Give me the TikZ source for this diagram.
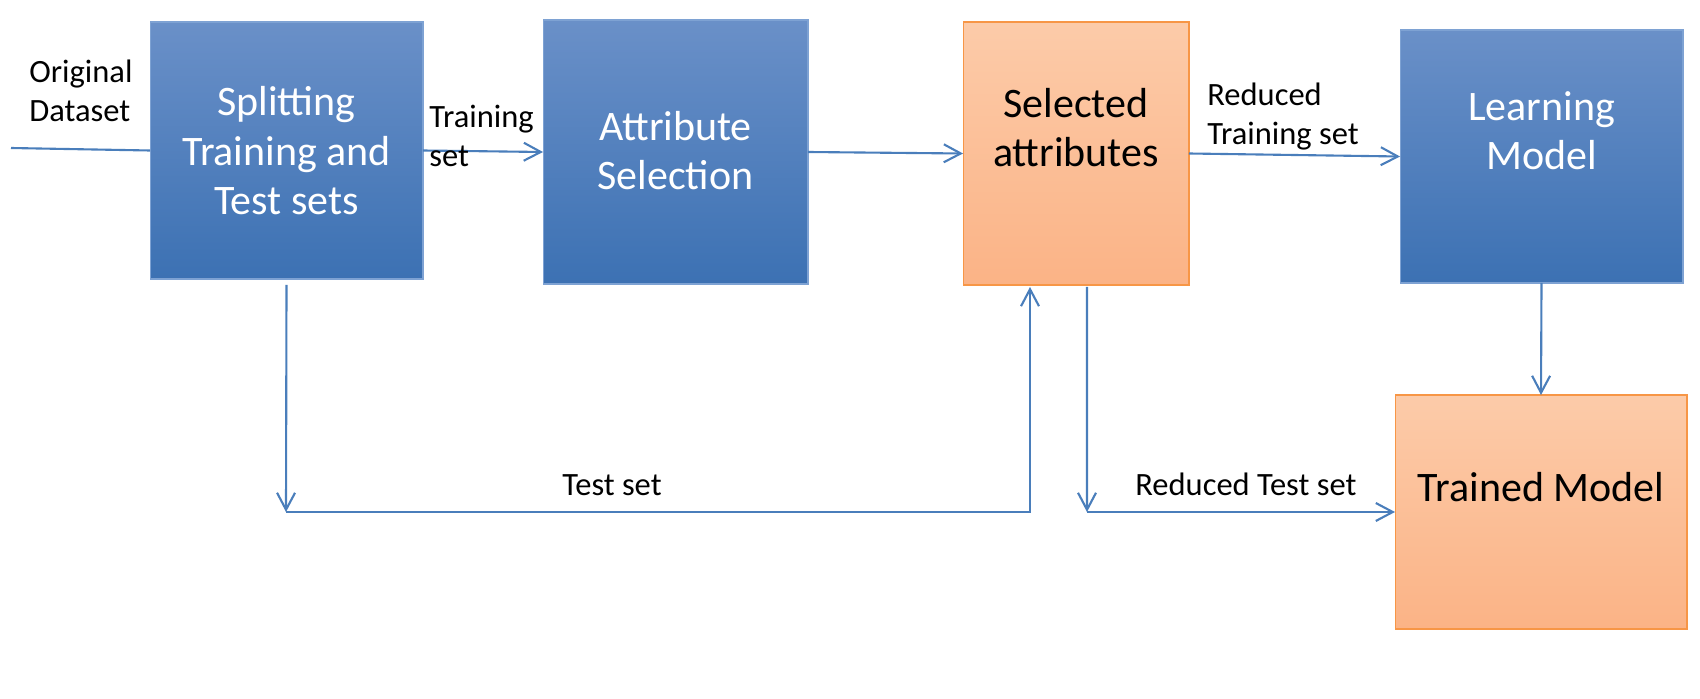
\documentclass[tikz,border=0pt]{standalone}
\usepackage{fontspec}
\setmainfont{Carlito}
\usetikzlibrary{arrows.meta}
\definecolor{flowline}{HTML}{4A7EBB}
\definecolor{blktop}{HTML}{6A90C8}
\definecolor{blkbot}{HTML}{3C71B3}
\definecolor{blkedge}{HTML}{7EA2D3}
\definecolor{orgtop}{HTML}{FCCBA9}
\definecolor{orgbot}{HTML}{FBB386}
\definecolor{orgedge}{HTML}{F79646}
\begin{document}
\begin{tikzpicture}[x=0.02cm,y=-0.02cm,
    blkbox/.style={draw=blkedge,line width=0.6pt,top color=blktop,bottom color=blkbot,text=white,align=center,inner sep=0pt,outer sep=0pt,font=\fontsize{23.9pt}{28.45pt}\selectfont,text depth=0pt},
    orgbox/.style={blkbox,draw=orgedge,top color=orgtop,bottom color=orgbot,text=black},
    flow/.style={draw=flowline,line width=1.2pt},
    flowarr/.style={flow,-{Straight Barb[length=0.34cm,width=0.36cm]}},
    lbl/.style={anchor=base west,align=left,inner sep=0pt,font=\fontsize{18.5pt}{22.5pt}\selectfont}]
      \useasboundingbox (0,0) rectangle (1700,699);
      \node[blkbox,minimum width=5.46cm,minimum height=5.14cm,text height=2.58cm] (split) at (286.5,150.5) {Splitting\\Training and\\Test sets};
      \node[blkbox,minimum width=5.3cm,minimum height=5.28cm,text height=1.52cm] (attr) at (675.5,152) {Attribute\\Selection};
      \node[orgbox,minimum width=4.52cm,minimum height=5.26cm,text height=0.54cm] (sel) at (1076,153.5) {Selected\\attributes};
      \node[blkbox,minimum width=5.66cm,minimum height=5.06cm,text height=0.54cm] (learn) at (1541.5,156.5) {Learning\\Model};
      \node[orgbox,minimum width=5.84cm,minimum height=4.68cm,text height=0pt,text depth=0.42cm] (trained) at (1541,512) {Trained Model};
      \coordinate (in) at (11,148);
      \coordinate (tcorner) at (286,512); \coordinate (rcorner) at (1087,512);
      \draw[flow] (in) -- (split.west);
      \draw[flowarr] (split.east) -- (attr.west);
      \draw[flowarr] (attr.east) -- (sel.west);
      \draw[flowarr] (sel.east) -- (learn.west);
      \draw[flowarr] (learn.south) -- (trained.north);
      \draw[flowarr] ([yshift=-0.12cm]split.south) -- (tcorner);
      \draw[flowarr] (tcorner) -| ([xshift=-0.92cm,yshift=-0.04cm]sel.south);
      \draw[flowarr] ([xshift=0.22cm,yshift=-0.04cm]sel.south) -- (rcorner);
      \draw[flowarr] (rcorner) -- (trained.west);
      \node[lbl] (orig) at (29,122) {Original\\Dataset};
      \node[lbl] (trainset) at (429,167) {Training\\set};
      \node[lbl] (redtrain) at (1207,145) {Reduced\\Training set};
      \node[lbl] (testset) at (562,495) {Test set};
      \node[lbl] (redtest) at (1135,495) {Reduced Test set};
\end{tikzpicture}
\end{document}
